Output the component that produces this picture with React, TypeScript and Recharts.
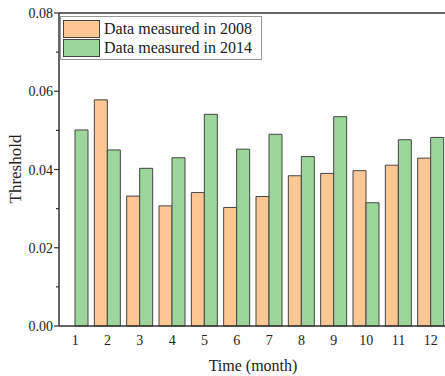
import { BarChart, Bar, XAxis, YAxis, ReferenceLine } from 'recharts';

const months = ['1', '2', '3', '4', '5', '6', '7', '8', '9', '10', '11', '12'];
const values2008: (number | null)[] = [null, 0.0578, 0.0332, 0.0307, 0.0341, 0.0303, 0.0331, 0.0384, 0.039, 0.0397, 0.0411, 0.0429];
const values2014 = [0.0501, 0.045, 0.0403, 0.043, 0.0541, 0.0452, 0.049, 0.0433, 0.0535, 0.0315, 0.0476, 0.0482];
const yTicks = [0, 0.01, 0.02, 0.03, 0.04, 0.05, 0.06, 0.07, 0.08];

const ORANGE = '#FDC794';
const GREEN = '#9DD69B';
const AXIS = '#333333';
const FONT = '"Liberation Serif", "Times New Roman", serif';

const data = months.map((m, i) => ({ month: m, y2008: values2008[i], y2014: values2014[i] }));

// major ticks get a label, minor ones only a short mark
const YTick = ({ x, y, payload }: any) => {
  const major = Math.round(payload.value * 100) % 2 === 0;
  return (
    <g>
      <line x1={x} x2={x - (major ? 5 : 3)} y1={y} y2={y} stroke={AXIS} strokeWidth={1.2} />
      {major && (
        <text x={x - 6} y={y} dy={5} textAnchor="end" fontSize={14} fontFamily={FONT} fill="#222">
          {payload.value.toFixed(2)}
        </text>
      )}
    </g>
  );
};

const LegendBox = () => (
  <div style={{ position: 'absolute', left: 60, top: 16, border: '1px solid #999', width: 198, padding: '2px 0 2px 2px', background: '#fff', fontFamily: FONT, fontSize: 16, color: '#222' }}>
    {[
      { label: 'Data measured in 2008', color: ORANGE },
      { label: 'Data measured in 2014', color: GREEN },
    ].map((it) => (
      <div key={it.label} style={{ display: 'flex', alignItems: 'center', height: 19 }}>
        <div style={{ width: 35, height: 16, background: it.color, border: '1px solid #444', marginRight: 4 }} />
        <span style={{ lineHeight: '19px' }}>{it.label}</span>
      </div>
    ))}
  </div>
);

export default function App() {
  return (
    <div style={{ position: 'fixed', left: 0, top: 0, width: 445, height: 376, overflow: 'hidden', background: '#fff' }}>
      <BarChart width={447} height={376} data={data} margin={{ top: 13, right: 0, left: 0, bottom: 0 }} barGap={0} barSize={13}>
        <XAxis
          dataKey="month"
          height={50}
          tickLine={false}
          axisLine={{ stroke: AXIS, strokeWidth: 1.5 }}
          tick={{ fontSize: 14, fontFamily: FONT, fill: '#222' }}
          tickMargin={3}
          label={{ value: 'Time (month)', position: 'insideBottom', offset: 5, fontSize: 16, fontFamily: FONT, fill: '#222' }}
        />
        <YAxis
          width={59}
          domain={[0, 0.08]}
          ticks={yTicks}
          interval={0}
          tickLine={false}
          tickSize={0}
          tickMargin={0}
          axisLine={{ stroke: AXIS, strokeWidth: 1.5 }}
          tick={<YTick />}
          label={{ value: 'Threshold', angle: -90, position: 'insideLeft', offset: 15, dy: 34, fontSize: 17, fontFamily: FONT, fill: '#222' }}
        />
        <ReferenceLine y={0.08} stroke={AXIS} strokeWidth={1.5} />
        <Bar dataKey="y2008" fill={ORANGE} stroke="#444" strokeWidth={1} isAnimationActive={false} />
        <Bar dataKey="y2014" fill={GREEN} stroke="#444" strokeWidth={1} isAnimationActive={false} />
      </BarChart>
      <LegendBox />
    </div>
  );
}
